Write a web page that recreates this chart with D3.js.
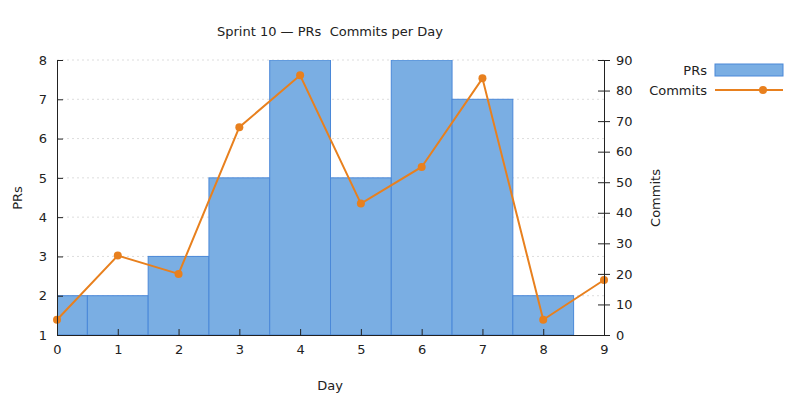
<!DOCTYPE html>
<html><head><meta charset="utf-8">
<script src="https://cdn.jsdelivr.net/npm/d3@7"></script>
<style>body{margin:0;background:#fff}text{font-family:"DejaVu Sans",sans-serif;font-size:13px;fill:#222}</style>
</head><body><div id="chart"></div>
<script>
var days = [0, 1, 2, 3, 4, 5, 6, 7, 8, 9];
var prDays = [0, 1, 2, 3, 4, 5, 6, 7, 8];
var prs = [2, 2, 3, 5, 8, 5, 8, 7, 2];
var commits = [5, 26, 20, 68, 85, 43, 55, 84, 5, 18];

var svg = d3.select("#chart").append("svg").attr("width", 800).attr("height", 400);
var pLeft = 57, pRight = 604, pTop = 60, pBottom = 335;

var x = d3.scaleLinear().domain([0, 9]).range([pLeft, pRight]);
var y = d3.scaleLinear().domain([1, 8]).range([pBottom, pTop]);
var y2 = d3.scaleLinear().domain([0, 90]).range([pBottom, pTop]);

// grid
svg.append("g").selectAll("line").data(d3.range(2, 9)).join("line")
    .attr("x1", pLeft).attr("x2", pRight).attr("y1", d => y(d)).attr("y2", d => y(d))
    .style("stroke", "#ddd").style("stroke-dasharray", "2,3");

svg.append("defs").append("clipPath").attr("id", "clip")
    .append("rect").attr("x", pLeft).attr("y", pTop).attr("width", pRight - pLeft).attr("height", pBottom - pTop);

svg.append("g").attr("clip-path", "url(#clip)").selectAll("rect").data(prDays).join("rect")
    .attr("x", d => x(d - 0.5)).attr("width", x(1) - x(0))
    .attr("y", (d, i) => y(prs[i])).attr("height", (d, i) => y(1) - y(prs[i]))
    .style("fill", "#7aaee3").style("stroke", "#4a88d8");

var line = d3.line().x((d, i) => x(days[i])).y(d => y2(d));
svg.append("path").datum(commits).attr("d", line)
    .style("fill", "none").style("stroke", "#e8801e").style("stroke-width", 2);
svg.append("g").selectAll("circle").data(commits).join("circle")
    .attr("cx", (d, i) => x(days[i])).attr("cy", d => y2(d)).attr("r", 4).style("fill", "#e8801e");

var ax = svg.append("g").attr("transform", "translate(0," + pBottom + ")")
    .call(d3.axisBottom(x).ticks(9).tickSize(-6).tickPadding(10));
var ayl = svg.append("g").attr("transform", "translate(" + pLeft + ",0)")
    .call(d3.axisLeft(y).ticks(7).tickSize(-6).tickPadding(10));
var ayr = svg.append("g").attr("transform", "translate(" + pRight + ",0)")
    .call(d3.axisRight(y2).ticks(9).tickSize(6).tickPadding(6));
[ax, ayl, ayr].forEach(g => {
  g.selectAll("text").style("font-size", "13px").style("fill", "#222").style("font-family", "DejaVu Sans");
  g.select(".domain").style("stroke", "#222");
  g.selectAll(".tick line").style("stroke", "#222");
});
ayr.selectAll(".tick line").attr("x1", -6).attr("x2", 6);

svg.append("text").attr("x", 330).attr("y", 36).attr("text-anchor", "middle")
    .style("white-space", "pre").text("Sprint 10 — PRs  Commits per Day");
svg.append("text").attr("x", 330).attr("y", 390).attr("text-anchor", "middle").text("Day");
svg.append("text").attr("transform", "translate(22,198) rotate(-90)").attr("text-anchor", "middle").text("PRs");
svg.append("text").attr("transform", "translate(660,198) rotate(-90)").attr("text-anchor", "middle").text("Commits");

// legend
svg.append("text").attr("x", 707).attr("y", 75).attr("text-anchor", "end").text("PRs");
svg.append("rect").attr("x", 715).attr("y", 64).attr("width", 68).attr("height", 12)
    .style("fill", "#7aaee3").style("stroke", "#4a88d8");
svg.append("text").attr("x", 707).attr("y", 95).attr("text-anchor", "end").text("Commits");
svg.append("line").attr("x1", 715).attr("x2", 783).attr("y1", 90).attr("y2", 90)
    .style("stroke", "#e8801e").style("stroke-width", 2);
svg.append("circle").attr("cx", 763).attr("cy", 90).attr("r", 4).style("fill", "#e8801e");
</script></body></html>
